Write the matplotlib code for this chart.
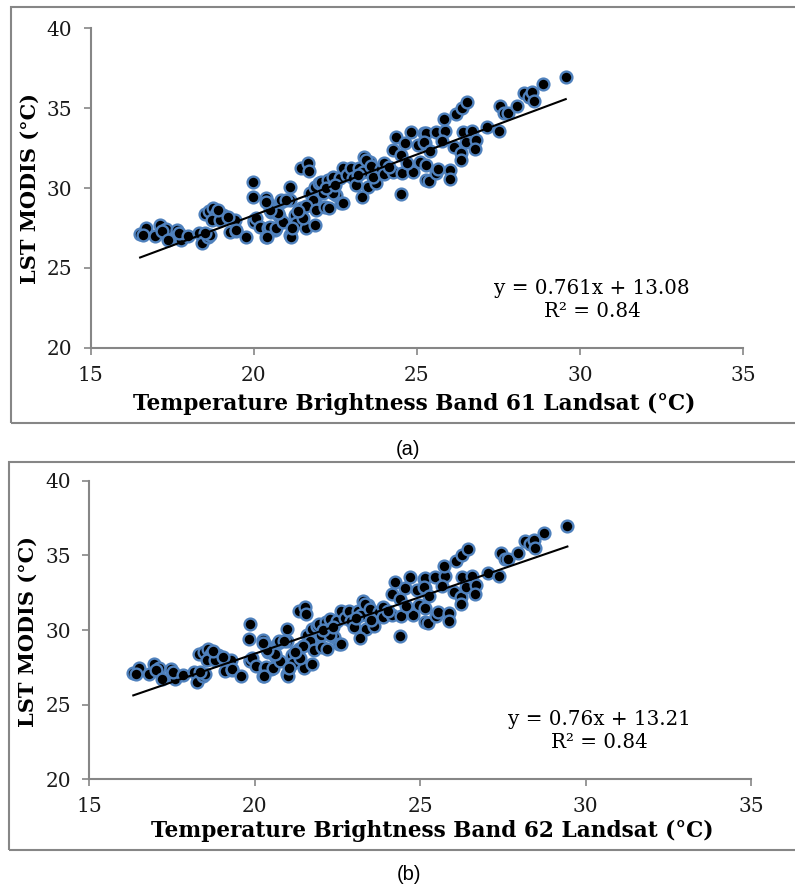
import numpy as np
import matplotlib
matplotlib.use("Agg")
import matplotlib.pyplot as plt
from matplotlib.patches import Rectangle

# LST MODIS (same for both panels), brightness temperature band 61 / band 62
lst_modis = [27.10, 27.48, 27.05, 27.02, 27.69, 27.44, 27.30, 26.75, 27.37, 26.75,
             27.20, 27.00, 27.17, 26.54, 26.92, 27.06, 27.20, 28.38, 28.55, 28.73,
             28.38, 28.31, 28.00, 28.00, 28.00, 28.60, 27.27, 27.33, 27.37, 26.95,
             28.20, 30.40, 29.42, 28.00, 27.90, 28.10, 27.58, 26.95, 27.48, 27.37,
             29.36, 29.05, 28.52, 27.54, 26.92, 29.15, 28.25, 27.48, 28.63, 29.25,
             27.90, 28.42, 28.63, 29.15, 30.05, 31.24, 31.55, 31.07, 29.25, 28.73,
             28.31, 27.79, 27.48, 27.06, 26.92, 27.48, 27.69, 29.67, 29.25, 29.25,
             29.25, 30.09, 28.10, 28.90, 28.55, 30.30, 30.40, 29.67, 28.63, 28.83,
             28.73, 29.56, 29.05, 30.51, 30.72, 30.61, 31.24, 29.67, 29.08, 30.00,
             30.20, 30.80, 31.24, 30.61, 30.20, 31.24, 31.97, 31.66, 31.03, 30.05,
             29.46, 30.30, 31.03, 31.75, 31.40, 30.80, 31.20, 30.70, 31.55, 30.88,
             31.03, 29.63, 32.39, 33.22, 32.07, 30.97, 32.81, 33.53, 31.03, 31.30,
             31.60, 32.70, 31.66, 33.43, 31.45, 30.51, 32.81, 33.47, 33.53, 33.60,
             32.90, 32.97, 30.46, 30.97, 32.30, 31.20, 34.31, 31.13, 30.60, 32.55,
             32.20, 31.76, 34.64, 35.00, 35.41, 33.53, 33.60, 32.90, 33.00, 32.43,
             33.85, 33.60, 35.16, 34.73, 34.73, 35.14, 35.94, 35.73, 36.00, 35.48,
             36.50, 36.94]

band61 = [16.52, 16.69, 16.60, 16.97, 17.13, 17.30, 17.20, 17.38, 17.65, 17.76,
          17.70, 17.99, 18.32, 18.42, 18.60, 18.67, 18.50, 18.50, 18.62, 18.76,
          18.83, 19.06, 18.72, 18.96, 19.42, 18.90, 19.27, 19.45, 19.47, 19.75,
          19.20, 19.98, 19.98, 20.00, 20.00, 20.08, 20.18, 20.39, 20.44, 20.64,
          20.39, 20.44, 20.54, 20.49, 20.42, 20.83, 20.76, 20.69, 20.60, 20.85,
          20.90, 20.74, 20.49, 20.39, 21.12, 21.46, 21.66, 21.69, 21.12, 21.46,
          21.25, 21.30, 21.61, 21.12, 21.15, 21.18, 21.87, 21.71, 21.87, 21.00,
          21.81, 21.87, 21.50, 21.60, 21.35, 22.00, 22.07, 22.12, 21.92, 22.17,
          22.32, 22.53, 22.68, 22.27, 22.42, 22.63, 22.73, 22.42, 22.73, 22.20,
          22.50, 22.85, 22.99, 23.04, 23.12, 23.24, 23.39, 23.55, 23.34, 23.49,
          23.32, 23.75, 23.75, 23.45, 23.60, 23.20, 23.90, 23.65, 24.00, 24.00,
          24.26, 24.51, 24.26, 24.36, 24.51, 24.54, 24.65, 24.82, 24.89, 24.15,
          24.70, 25.02, 25.08, 25.23, 25.28, 25.28, 25.26, 25.28, 25.57, 25.87,
          25.23, 25.77, 25.36, 25.59, 25.40, 25.65, 25.84, 26.00, 26.00, 26.15,
          26.35, 26.35, 26.20, 26.38, 26.55, 26.40, 26.69, 26.50, 26.81, 26.79,
          27.15, 27.50, 27.55, 27.68, 27.78, 28.06, 28.29, 28.44, 28.54, 28.59,
          28.85, 29.56]

band62 = [16.33, 16.50, 16.42, 16.80, 16.95, 17.12, 17.03, 17.21, 17.47, 17.58,
          17.53, 17.82, 18.15, 18.26, 18.44, 18.49, 18.34, 18.33, 18.46, 18.59,
          18.67, 18.90, 18.56, 18.80, 19.27, 18.74, 19.11, 19.30, 19.31, 19.60,
          19.05, 19.85, 19.84, 19.86, 19.85, 19.93, 20.04, 20.25, 20.30, 20.50,
          20.26, 20.30, 20.40, 20.35, 20.28, 20.70, 20.62, 20.55, 20.47, 20.72,
          20.76, 20.61, 20.36, 20.26, 20.99, 21.33, 21.53, 21.56, 20.99, 21.33,
          21.12, 21.17, 21.48, 20.99, 21.02, 21.05, 21.74, 21.58, 21.74, 20.87,
          21.68, 21.74, 21.37, 21.47, 21.22, 21.87, 21.94, 21.99, 21.79, 22.04,
          22.19, 22.40, 22.55, 22.14, 22.29, 22.50, 22.60, 22.29, 22.60, 22.07,
          22.37, 22.72, 22.86, 22.91, 22.99, 23.11, 23.27, 23.42, 23.21, 23.36,
          23.19, 23.62, 23.62, 23.32, 23.47, 23.07, 23.77, 23.52, 23.88, 23.88,
          24.14, 24.40, 24.14, 24.24, 24.39, 24.42, 24.53, 24.70, 24.77, 24.03,
          24.58, 24.90, 24.96, 25.11, 25.16, 25.16, 25.14, 25.16, 25.45, 25.75,
          25.11, 25.65, 25.24, 25.47, 25.28, 25.53, 25.72, 25.88, 25.88, 26.03,
          26.23, 26.23, 26.08, 26.27, 26.44, 26.28, 26.57, 26.38, 26.69, 26.67,
          27.04, 27.39, 27.44, 27.57, 27.67, 27.95, 28.18, 28.33, 28.43, 28.48,
          28.74, 29.45]

# trendline coefficients as printed on the chart
slope = [0.761, 0.76]
intercept = [13.08, 13.21]
eq_text = ["y = 0.761x + 13.08\nR\u00b2 = 0.84", "y = 0.76x + 13.21\nR\u00b2 = 0.84"]
xlabels = ["Temperature Brightness Band 61 Landsat (\u00b0C)",
           "Temperature Brightness Band 62 Landsat (\u00b0C)"]
captions = ["(a)", "(b)"]

W, H = 795, 888
fig = plt.figure(figsize=(W / 100, H / 100), dpi=100)

serif = "DejaVu Serif"
grey = "#868686"
blue = "#4F81BD"


def fx(px):
    return px / W


def fy(py):
    return 1 - py / H


# panel geometry in pixels: axes left, right, top, bottom; box; caption; equation
panels = [
    dict(ax=(90.5, 743.3, 28.5, 347.7), box=(11, 7, 850, 423.5), cap=(408, 449),
         eq=(592, 300), xl=(414, 404), yl=(30, 188)),
    dict(ax=(89.3, 751.0, 480.7, 779.3), box=(8.5, 462, 850, 850), cap=(409, 874),
         eq=(599, 731), xl=(432, 831), yl=(28, 631)),
]
xs = [band61, band62]

for i, p in enumerate(panels):
    l, r, t, b = p["ax"]
    ax = fig.add_axes([fx(l), fy(b), fx(r - l), (b - t) / H])

    # outer frame around the chart
    bx0, by0, bx1, by1 = p["box"]
    fig.add_artist(Rectangle((fx(bx0), fy(by1)), fx(bx1 - bx0), (by1 - by0) / H,
                             transform=fig.transFigure, fill=False,
                             edgecolor=grey, linewidth=1.5, clip_on=False))

    x = np.array(xs[i])
    ax.scatter(x, lst_modis, s=72, c="black", edgecolors=blue, linewidths=1.7, zorder=2)
    xl = np.array([x.min(), x.max()])
    ax.plot(xl, slope[i] * xl + intercept[i], color="black", lw=1.5, zorder=3)

    ax.set_xlim(15, 35)
    ax.set_ylim(20, 40)
    ax.set_xticks([15, 20, 25, 30, 35])
    ax.set_yticks([20, 25, 30, 35, 40])
    for s in ["top", "right"]:
        ax.spines[s].set_visible(False)
    for s in ["left", "bottom"]:
        ax.spines[s].set_color(grey)
        ax.spines[s].set_linewidth(1.5)
    ax.tick_params(direction="out", length=5, width=1.2, color=grey,
                   labelsize=14.5, pad=8)
    for lab in ax.get_xticklabels() + ax.get_yticklabels():
        lab.set_family(serif)
        lab.set_color("#1a1a1a")

    fig.text(fx(p["xl"][0]), fy(p["xl"][1]), xlabels[i], ha="center", va="center",
             family=serif, fontweight="bold", fontsize=15.6)
    fig.text(fx(p["yl"][0]), fy(p["yl"][1]), "LST MODIS (\u00b0C)", ha="center",
             va="center", rotation=90, family=serif, fontweight="bold", fontsize=15)
    fig.text(fx(p["eq"][0]), fy(p["eq"][1]), eq_text[i], ha="center", va="center",
             family=serif, fontsize=14.3, linespacing=1.3)
    fig.text(fx(p["cap"][0]), fy(p["cap"][1]), captions[i], ha="center", va="center",
             family="Liberation Sans", fontsize=14.5)

fig.savefig("out.png", dpi=100)
